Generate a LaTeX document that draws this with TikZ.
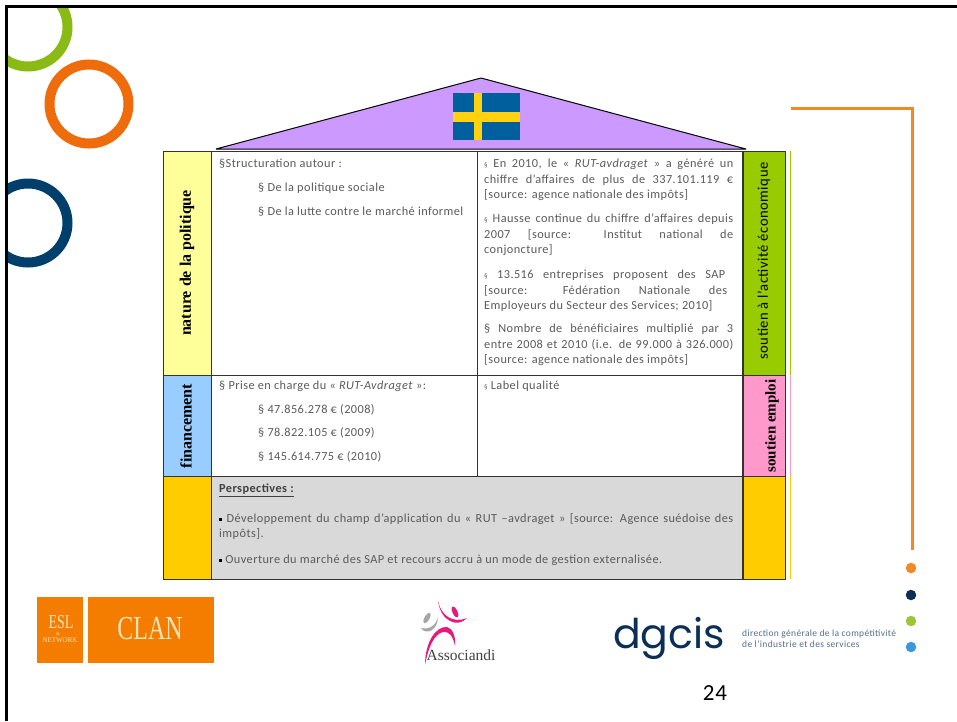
\documentclass[tikz,border=0pt]{standalone}
\usepackage{fontspec}
\setmainfont{Carlito}[LetterSpace=3.5]
\newfontfamily\headfont{Liberation Serif}
\newfontfamily\logofont{Poppins}
\usepackage{tikz}
\definecolor{txtgrey}{HTML}{5A5A5A}
\definecolor{ringgreen}{HTML}{8ABB14}
\definecolor{ringorange}{HTML}{EE6C0C}
\definecolor{ringnavy}{HTML}{003F6B}
\definecolor{roofpurple}{HTML}{CC99FF}
\definecolor{flagblue}{HTML}{00609E}
\definecolor{flagyellow}{HTML}{FFD10F}
\definecolor{lineorange}{HTML}{F08A24}
\definecolor{logoorange}{HTML}{F47D00}
\definecolor{logopink}{HTML}{E5197F}
\definecolor{logonavy}{HTML}{0B2F55}
\definecolor{logocream}{HTML}{FBE3B8}
\definecolor{palegold}{HTML}{FFCC00}
\definecolor{paleyellow}{HTML}{FFFF99}
\definecolor{paleblue}{HTML}{99CCFF}
\definecolor{palegreen}{HTML}{99CC00}
\definecolor{palepink}{HTML}{FF99CC}
\newcommand{\sqbullet}{\raisebox{1.5pt}{\textcolor{black}{\rule{3pt}{3pt}}}}
\newcommand{\smallsec}{{\scriptsize§}}
\newcommand{\tallbox}[1]{\scalebox{1}[1.4]{#1}}

\begin{document}
\begin{tikzpicture}[x=1pt,y=-1pt,
    cell/.style={draw=black!80,line width=1pt},
    vlabel/.style={rotate=90,font=\headfont\bfseries\fontsize{16}{16}\selectfont,inner sep=0pt},
    txt/.style={anchor=west,inner sep=0pt,text=txtgrey,font=\fontsize{12.3}{15.5}\selectfont},
    para/.style={anchor=north west,inner sep=0pt,text=txtgrey,text width=249pt,align=justify,
      font=\fontsize{12.3}{15.5}\selectfont},
    ring/.style={draw,circle,line width=10pt,minimum size=79pt,inner sep=0pt},
    dot/.style={circle,minimum size=10.5pt,inner sep=0pt}]
    \useasboundingbox (0,0) rectangle (957,721);
    % rings
    \begin{scope}
      \clip (8,8) rectangle (200,300);
      \node[ring,draw=ringgreen] (ring1) at (28,27) {};
      \node[ring,draw=ringorange] (ring2) at (89,104) {};
      \node[ring,draw=ringnavy] (ring3) at (28,223) {};
    \end{scope}
    \draw[line width=3pt] (6.5,721) -- (6.5,6.5) -- (957,6.5);
    % roof
    \coordinate (roofl) at (216,149);
    \coordinate (rooft) at (481,78);
    \coordinate (roofr) at (746,149);
    \draw[fill=roofpurple,line width=1pt,line join=bevel] (roofl) -- (rooft) -- (roofr) -- cycle;
    \node[fill=flagblue,minimum width=67pt,minimum height=47pt,inner sep=0pt] (flag) at (486.5,116.5) {};
    \fill[flagyellow] (474,93) rectangle (482,140);
    \fill[flagyellow] (453,112) rectangle (520,122);
    % side columns
    \draw[cell,fill=paleyellow] (163,151) rectangle (211,375);
    \draw[cell,fill=paleblue] (163,375) rectangle (211,476);
    \draw[cell,fill=palegold] (163,476) rectangle (211,579);
    \draw[cell,fill=palegreen] (743,151) rectangle (785,375);
    \draw[cell,fill=palepink] (743,375) rectangle (785,476);
    \draw[cell,fill=palegold] (743,476) rectangle (785,579);
    % main cells
    \draw[cell] (211,151) rectangle (477,375);
    \draw[cell] (477,151) rectangle (742,375);
    \draw[cell] (211,375) rectangle (477,476);
    \draw[cell] (477,375) rectangle (742,476);
    \draw[cell,fill=black!15] (211,476) rectangle (742,579);
    % thin right line
    \draw[palegreen,line width=1pt] (790,151) -- (790,375);
    \draw[palepink,line width=1pt] (790,375) -- (790,476);
    \draw[palegold,line width=1pt] (790,476) -- (790,579);
    % side labels
    \node[vlabel] (nature) at (187,263) {nature de la politique};
    \node[vlabel] (finance) at (186,426) {financement};
    \node[vlabel,font=\fontsize{14.6}{14.6}\selectfont] (soutienact) at (764,261) {soutien à l'activité économique};
    \node[vlabel,font=\headfont\bfseries\fontsize{15}{15}\selectfont] (soutienemp) at (772,426) {soutien emploi};
    % left cell
    \node[txt] (s1) at (219,164) {§Structuration autour :};
    \node[txt] (s2) at (258,188) {§ De la politique sociale};
    \node[txt] (s3) at (258,212) {§ De la lutte contre le marché informel};
    % right cell
    \node[para] (p1) at (484,159) {\smallsec{} En 2010, le « \textit{RUT-avdraget} » a généré un\linebreak[4]
      chiffre d’affaires de plus de 337.101.119 €\linebreak[4]
      [source: agence nationale des impôts]};
    \node[para] (p2) at (484,214) {\smallsec{} Hausse continue du chiffre d’affaires depuis\linebreak[4]
      2007 [source: Institut national de\linebreak[4]
      conjoncture]};
    \node[para] (p3) at (484,270) {\smallsec{} 13.516 entreprises proposent des SAP\hspace*{8pt}\linebreak[4]
      [source: Fédération Nationale des\hspace*{6pt}\linebreak[4]
      Employeurs du Secteur des Services; 2010]};
    \node[para] (p4) at (484,324) {§ Nombre de bénéficiaires multiplié par 3\linebreak[4]
      entre 2008 et 2010 (i.e. de 99.000 à 326.000)\linebreak[4]
      [source: agence nationale des impôts]};
    % financing
    \node[txt] (f1) at (219,386) {§ Prise en charge du « \textit{RUT-Avdraget} »:};
    \node[txt] (f2) at (258,410) {§ 47.856.278 € (2008)};
    \node[txt] (f3) at (258,433) {§ 78.822.105 € (2009)};
    \node[txt] (f4) at (258,457) {§ 145.614.775 € (2010)};
    \node[txt] (q1) at (484,386) {\smallsec{} Label qualité};
    % perspectives
    \node[txt,text=black!75] (h1) at (219,490) {\textbf{\underline{Perspectives :}}};
    \node[para,text width=514pt] (h2) at (219,513) {\sqbullet{}  Développement du champ d’application du « RUT –avdraget » [source: Agence suédoise des\linebreak[4] impôts].};
    \node[txt] (h3) at (219,560) {\sqbullet{} Ouverture du marché des SAP et recours accru à un mode de gestion externalisée.};
    % orange line and dots
    \coordinate (la) at (791,108);
    \coordinate (lb) at (912,108);
    \coordinate (lc) at (912,550);
    \draw[lineorange,line width=3pt] (la) -- (lb) -- (lc);
    \node[dot,fill=lineorange] (d1) at (911,568) {};
    \node[dot,fill=logonavy] (d2) at (911,595) {};
    \node[dot,fill=ringgreen!85!white] (d3) at (911,621) {};
    \node[dot,fill=cyan!70!blue!80!white] (d4) at (911,647) {};
    % logos
    \node[fill=logoorange,minimum width=46pt,minimum height=66pt,inner sep=0pt] (esl) at (60,630) {};
    \node[fill=logoorange,minimum width=126pt,minimum height=66pt,inner sep=0pt] (clan) at (151,630) {};
    \node[text=logocream,font=\headfont\fontsize{14}{14}\selectfont,inner sep=0pt] (esltxt) at (61,622) {\tallbox{ESL}};
    \node[text=logocream,font=\headfont\fontsize{5}{5}\selectfont,inner sep=0pt] (eslamp) at (58,634) {\&};
    \node[text=logocream,font=\headfont\fontsize{7}{7}\selectfont,inner sep=0pt] (eslnet) at (60,640) {NETWORK};
    \node[text=logocream,font=\headfont\fontsize{24}{24}\selectfont,inner sep=0pt] (clantxt) at (150,629) {\tallbox{CLAN}};
    % associandi figure
    \fill[logopink] (438,601) .. controls (441,615) and (452,624) .. (467,618) .. controls (458,628) and (441,622) .. (438,601);
    \fill[logopink] (425,665) .. controls (425,642) and (436,626) .. (447,627) .. controls (453,628) and (456,638) .. (455,646) .. controls (453,636) and (449,631) .. (443,632) .. controls (434,634) and (428,648) .. (425,665);
    \fill[logopink,rotate around={25:(455,612)}] (455,612) ellipse (2.5 and 6);
    \fill[black!35,rotate around={-30:(427,618)}] (427,618) ellipse (2.5 and 6);
    \fill[black!35] (421,628) .. controls (430,630) and (436,625) .. (438,617) .. controls (438,630) and (426,636) .. (421,628);
    \node[text=black!75,font=\headfont\fontsize{15.5}{15.5}\selectfont,inner sep=0pt] (assoc) at (461,655) {Associandi};
    \node[anchor=base,text=logonavy,font=\logofont\fontsize{41}{41}\selectfont,inner sep=0pt] (dgcis) at (669,648) {dgcis};
    \node[anchor=north west,text=logonavy!70!white,align=left,font=\fontsize{9.5}{10.5}\selectfont,inner sep=0pt] (dgtxt) at (742,630) {direction générale de la compétitivité\\de l'industrie et des services};
    \node[font=\fontsize{23}{23}\selectfont,inner sep=0pt] (page) at (715,693) {24};
\end{tikzpicture}
\end{document}
